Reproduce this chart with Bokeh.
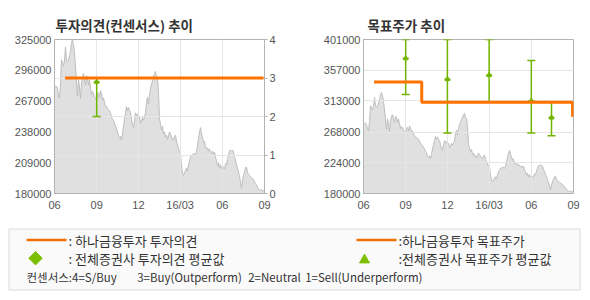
import pandas as pd
from bokeh.plotting import figure
from bokeh.layouts import column, row
from bokeh.models import Range1d, LinearAxis, FixedTicker, Grid, NumeralTickFormatter
from bokeh.core.properties import value
from bokeh.embed import file_html
from bokeh.resources import INLINE

# ---------------- data ----------------
price = [
    282000, 280000, 281000, 279000, 272000, 270000, 283000, 306000, 303000, 300000,
    305000, 318000, 306000, 304000, 305000, 310000, 314000, 322000, 325000, 320000,
    312000, 300000, 285000, 272000, 287000, 280000, 269000, 284000, 290000, 293000,
    286000, 282000, 291000, 289000, 282000, 287000, 280000, 273000, 276000, 274000,
    271000, 270000, 268000, 273000, 275000, 270000, 277000, 274000, 268000, 270000,
    265000, 263000, 262000, 260000, 259000, 258000, 256000, 252000, 250000, 249000,
    246000, 244000, 241000, 238000, 234000, 232000, 234000, 230000, 236000, 244000,
    250000, 256000, 262000, 258000, 261000, 258000, 256000, 250000, 245000, 242000,
    248000, 256000, 253000, 255000, 250000, 252000, 246000, 248000, 252000, 249000,
    252000, 256000, 266000, 271000, 264000, 273000, 279000, 283000, 286000, 290000,
    293000, 295000, 289000, 288000, 275000, 250000, 246000, 240000, 243000, 236000,
    238000, 233000, 235000, 231000, 234000, 238000, 236000, 233000, 231000, 230000,
    234000, 235000, 229000, 226000, 222000, 219000, 218000, 206000, 200000, 197000,
    199000, 202000, 204000, 201000, 207000, 211000, 214000, 216000, 217000, 217000,
    218000, 216000, 219000, 225000, 232000, 238000, 242000, 236000, 233000, 228000,
    229000, 224000, 222000, 223000, 220000, 222000, 219000, 218000, 220000, 217000,
    219000, 214000, 211000, 206000, 209000, 204000, 207000, 203000, 206000, 204000,
    203000, 208000, 207000, 212000, 216000, 220000, 221000, 220000, 221000, 219000,
    214000, 212000, 207000, 204000, 200000, 196000, 191000, 185000, 192000, 197000,
    201000, 204000, 205000, 200000, 198000, 197000, 196000, 195000, 194000, 193000,
    191000, 189000, 188000, 186000, 184000, 183500, 183000, 184000, 182000, 183000,
    182000,
]
period_start = "2015-06-01"
period_end = "2016-09-01"

tick_dates = ["2015-06-01", "2015-09-01", "2015-12-01", "2016-03-01", "2016-06-01", "2016-09-01"]
tick_labels = ["06", "09", "12", "16/03", "06", "09"]

left_yticks = [180000, 209000, 238000, 267000, 296000, 325000]
opinion_ticks = [0, 1, 2, 3, 4]
right_yticks = [180000, 224000, 268000, 313000, 357000, 401000]

hana_opinion_dates = ["2015-06-24", "2016-08-30"]
hana_opinion = [3, 3]

cons_opinion_dates = ["2015-09-01"]
cons_opinion_mean = [2.9]
cons_opinion_max = [3.0]
cons_opinion_min = [2.0]

hana_target_dates = ["2015-06-24", "2015-10-06", "2016-08-30"]
hana_target = [340000, 311000, 290000]

cons_target_dates = ["2015-09-01", "2015-12-01", "2016-03-01", "2016-06-01", "2016-07-15"]
cons_target_mean = [374000, 344000, 350000, 313000, 289000]
cons_target_max = [401000, 401000, 401000, 371000, 311000]
cons_target_min = [322000, 267000, 311000, 267000, 263000]

# ---------------- styles ----------------
ORANGE = "#ff7200"
GREEN = "#72b500"
AREA = "#e0e0e0"
AREA_LINE = "#bdbdbd"
GRID = "#e6e6e6"
FRAME = "#b3b3b3"
LABEL = "#555555"
KFONT = "Noto Sans CJK KR"
NFONT = "Liberation Sans"

price_dates = pd.date_range(period_start, period_end, periods=len(price))
tick_ms = [int(pd.Timestamp(d).timestamp() * 1000) for d in tick_dates]
x_overrides = {t: lab for t, lab in zip(tick_ms, tick_labels)}


def base_fig(title, ymin, ymax, yticks, border_left, border_right):
    p = figure(width=295, height=222, x_axis_type="datetime",
               x_range=Range1d(pd.Timestamp(period_start), pd.Timestamp(period_end)),
               y_range=Range1d(ymin, ymax),
               output_backend="svg", toolbar_location=None,
               min_border_left=border_left, min_border_right=border_right,
               min_border_top=39, min_border_bottom=29,
               background_fill_color="white", border_fill_color="white",
               outline_line_color=FRAME)
    p.title.text = title
    p.title.text_font = KFONT
    p.title.text_font_size = "13.5px"
    p.title.text_font_style = "bold"
    p.title.text_color = "#333333"
    p.title.align = "left"

    xa = p.xaxis[0]
    xa.ticker = FixedTicker(ticks=tick_ms)
    xa.major_label_overrides = x_overrides
    xa.major_tick_in = 0
    xa.major_tick_out = 0
    xa.minor_tick_out = 0
    xa.minor_tick_in = 0
    xa.major_label_standoff = 5
    xa.axis_line_color = FRAME

    ya = p.yaxis[0]
    ya.ticker = FixedTicker(ticks=yticks)
    ya.formatter = NumeralTickFormatter(format="0")
    ya.major_tick_in = 0
    ya.major_tick_out = 0
    ya.minor_tick_in = 0
    ya.minor_tick_out = 0
    ya.major_label_standoff = 3
    ya.axis_line_color = FRAME

    for ax in (xa, ya):
        ax.major_label_text_font = NFONT
        ax.major_label_text_font_size = "11px"
        ax.major_label_text_color = LABEL

    p.xgrid.ticker = FixedTicker(ticks=tick_ms)
    p.xgrid.grid_line_color = GRID
    p.ygrid.grid_line_color = GRID

    area = p.varea(x=price_dates, y1=0, y2=price, fill_color=AREA)
    area.level = "image"
    outline = p.line(x=price_dates, y=price, line_color=AREA_LINE, line_width=1)
    outline.level = "image"
    return p


# ---------------- left chart: 투자의견 ----------------
p1 = base_fig("투자의견(컨센서스) 추이", 180000, 325000, left_yticks, 54, 31)
p1.title.offset = 1
p1.extra_y_ranges = {"op": Range1d(0, 4)}
op_axis = LinearAxis(y_range_name="op", ticker=FixedTicker(ticks=opinion_ticks),
                     major_tick_in=0, major_tick_out=3, minor_tick_in=0, minor_tick_out=0,
                     major_tick_line_color=FRAME, axis_line_color=FRAME,
                     major_label_standoff=2,
                     major_label_text_font=NFONT, major_label_text_font_size="11px",
                     major_label_text_color=LABEL)
p1.add_layout(op_axis, "right")
p1.ygrid.visible = False
p1.add_layout(Grid(dimension=1, ticker=FixedTicker(ticks=opinion_ticks), y_range_name="op",
                   grid_line_color=GRID))

cod = pd.to_datetime(cons_opinion_dates)
p1.segment(x0=cod, y0=cons_opinion_min, x1=cod, y1=cons_opinion_max,
           y_range_name="op", line_color=GREEN, line_width=1.5)
p1.scatter(x=cod, y=cons_opinion_min, marker="dash", size=8, line_color=GREEN,
           line_width=1.5, y_range_name="op")
p1.scatter(x=cod, y=cons_opinion_max, marker="dash", size=8, line_color=GREEN,
           line_width=1.5, y_range_name="op")
p1.scatter(x=cod, y=cons_opinion_mean, marker="dash", size=6, line_color=GREEN,
           line_width=1.5, y_range_name="op")
p1.scatter(x=cod, y=cons_opinion_mean, marker="triangle", size=5, line_color=GREEN,
           fill_color=GREEN, y_range_name="op")
p1.line(x=pd.to_datetime(hana_opinion_dates), y=hana_opinion, y_range_name="op",
        line_color=ORANGE, line_width=3)

# ---------------- right chart: 목표주가 ----------------
p2 = base_fig("목표주가 추이", 180000, 401000, right_yticks, 68, 17)
p2.title.offset = 4
p2.ygrid.ticker = FixedTicker(ticks=right_yticks)

ctd = pd.to_datetime(cons_target_dates)
p2.segment(x0=ctd, y0=cons_target_min, x1=ctd, y1=cons_target_max,
           line_color=GREEN, line_width=1.5)
p2.scatter(x=ctd, y=cons_target_min, marker="dash", size=8, line_color=GREEN, line_width=1.5)
p2.scatter(x=ctd, y=cons_target_max, marker="dash", size=8, line_color=GREEN, line_width=1.5)
p2.scatter(x=ctd, y=cons_target_mean, marker="dash", size=6, line_color=GREEN, line_width=1.5)
p2.scatter(x=ctd, y=cons_target_mean, marker="triangle", size=5, line_color=GREEN,
           fill_color=GREEN)
p2.step(x=pd.to_datetime(hana_target_dates), y=hana_target, mode="after",
        line_color=ORANGE, line_width=3)

# ---------------- legend panel ----------------
p3 = figure(width=590, height=78, x_range=Range1d(0, 590), y_range=Range1d(78, 0),
            output_backend="svg", toolbar_location=None,
            x_axis_location=None, y_axis_location=None,
            min_border=0, outline_line_color=None,
            background_fill_color="white", border_fill_color="white")
p3.grid.visible = False

p3.quad(left=[8.5], right=[579.5], top=[6.5], bottom=[67.5],
        fill_color="#fafafa", line_color="#dadada", line_width=1)

leg_font = value(KFONT)
p3.segment(x0=[26, 356], y0=[17.5, 17.5], x1=[66, 396], y1=[17.5, 17.5],
           line_color="#f07000", line_width=2.5)
p3.scatter(x=[35], y=[35.7], marker="square", angle=0.785398, size=9.5,
           fill_color="#7cbf00", line_color="#7cbf00")
p3.scatter(x=[364], y=[37.5], marker="triangle", size=10,
           fill_color="#7cbf00", line_color="#7cbf00")
p3.text(x=[68, 68, 398, 398], y=[17.5, 35.7, 17.5, 35.7],
        text=[": 하나금융투자 투자의견", ": 전체증권사 투자의견 평균값",
              ":하나금융투자 목표주가", ":전체증권사 목표주가 평균값"],
        text_font=leg_font, text_font_size="13px", text_color="#333333",
        text_baseline="middle", text_align="left")
p3.text(x=[26, 136.7, 247.7, 304.7], y=[54, 54, 54, 54],
        text=["컨센서스:4=S/Buy", "3=Buy(Outperform)", "2=Neutral", "1=Sell(Underperform)"],
        text_font=leg_font, text_font_size="11.5px", text_color="#333333",
        text_baseline="middle", text_align="left")

layout = column(row(p1, p2), p3)
open("out.html", "w").write(file_html(layout, INLINE))
